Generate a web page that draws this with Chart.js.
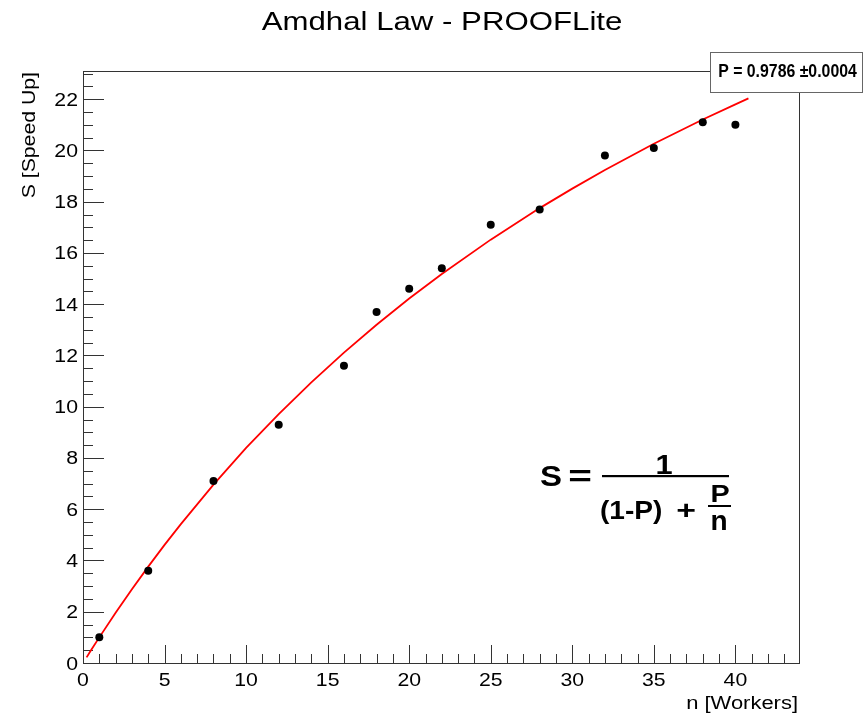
<!DOCTYPE html>
<html>
<head>
<meta charset="utf-8">
<script src="https://cdn.jsdelivr.net/npm/chart.js@4.4.1/dist/chart.umd.min.js"></script>
<style>
html,body{margin:0;padding:0;background:#fff;}
canvas{display:block;}
</style>
</head>
<body>
<canvas id="c" width="866" height="715"></canvas>
<script>
// Measured data
const workers = [1, 4, 8, 12, 16, 18, 20, 22, 25, 28, 32, 35, 38, 40];
const speedup = [1.0, 3.6, 7.1, 9.3, 11.6, 13.7, 14.6, 15.4, 17.1, 17.7, 19.8, 20.1, 21.1, 21.0];
// Fitted curve
const fitN = [0.22, 0.5, 1, 2, 3, 4, 5, 6, 8, 10, 12, 14, 16, 18, 20, 22, 25, 28, 30, 32, 35, 38, 40, 40.8];
const fitS = [0.22, 0.51, 1.00, 1.96, 2.88, 3.76, 4.61, 5.42, 6.96, 8.39, 9.71, 10.95, 12.11, 13.20, 14.22, 15.18, 16.52, 17.75, 18.51, 19.24, 20.26, 21.21, 21.80, 22.03];
// Axis ticks
const xTickLabels = [0, 5, 10, 15, 20, 25, 30, 35, 40];
const xMinorTicks = [1,2,3,4,6,7,8,9,11,12,13,14,16,17,18,19,21,22,23,24,26,27,28,29,31,32,33,34,36,37,38,39,41,42,43];
const yTickLabels = [0, 2, 4, 6, 8, 10, 12, 14, 16, 18, 20, 22];
const yMinorTicks = [0.5,1,1.5,2.5,3,3.5,4.5,5,5.5,6.5,7,7.5,8.5,9,9.5,10.5,11,11.5,12.5,13,13.5,14.5,15,15.5,16.5,17,17.5,18.5,19,19.5,20.5,21,21.5,22.5,23];
// Texts
const chartTitle = 'Amdhal Law - PROOFLite';
const xTitle = 'n [Workers]';
const yTitle = 'S [Speed Up]';
const fitLabel = 'P = 0.9786 \u00B10.0004';

const FONT = '"Liberation Sans", Arial, Helvetica, sans-serif';

function stext(ctx, str, x, y, font, align, sx, baseline) {
  ctx.save();
  ctx.translate(x, y);
  ctx.scale(sx, 1);
  ctx.font = font;
  ctx.textAlign = align;
  ctx.textBaseline = baseline || 'alphabetic';
  ctx.fillText(str, 0, 0);
  ctx.restore();
}

const rootStyle = {
  id: 'rootStyle',
  beforeDatasetsDraw(chart) {
    const ctx = chart.ctx, a = chart.chartArea;
    const xs = chart.scales.x, ys = chart.scales.y;
    ctx.save();
    ctx.strokeStyle = '#333';
    ctx.lineWidth = 1;
    ctx.beginPath();
    xTickLabels.forEach(v => { const px = Math.round(xs.getPixelForValue(v)) + 0.5; ctx.moveTo(px, a.bottom); ctx.lineTo(px, a.bottom - 18); });
    xMinorTicks.forEach(v => { const px = Math.round(xs.getPixelForValue(v)) + 0.5; ctx.moveTo(px, a.bottom); ctx.lineTo(px, a.bottom - 9); });
    yTickLabels.forEach(v => { const py = Math.round(ys.getPixelForValue(v)) + 0.5; ctx.moveTo(a.left, py); ctx.lineTo(a.left + 21, py); });
    yMinorTicks.forEach(v => { const py = Math.round(ys.getPixelForValue(v)) + 0.5; ctx.moveTo(a.left, py); ctx.lineTo(a.left + 10, py); });
    ctx.stroke();
    ctx.restore();
  },
  afterDraw(chart) {
    const ctx = chart.ctx, a = chart.chartArea;
    const xs = chart.scales.x, ys = chart.scales.y;
    ctx.save();
    ctx.strokeStyle = '#333';
    ctx.lineWidth = 1;
    ctx.strokeRect(Math.round(a.left) + 0.5, Math.round(a.top) + 0.5, Math.round(a.right - a.left), Math.round(a.bottom - a.top));
    ctx.fillStyle = '#000';
    xTickLabels.forEach(v => stext(ctx, String(v), xs.getPixelForValue(v), a.bottom + 23, '18px ' + FONT, 'center', 1.18));
    yTickLabels.forEach(v => stext(ctx, String(v), a.left - 5, ys.getPixelForValue(v) + 6.5, '18px ' + FONT, 'right', 1.18));
    stext(ctx, xTitle, a.right - 1, a.bottom + 46, '18px ' + FONT, 'right', 1.22);
    ctx.save();
    ctx.translate(35, a.top + 1);
    ctx.rotate(-Math.PI / 2);
    ctx.scale(1.18, 1);
    ctx.font = '18px ' + FONT;
    ctx.textAlign = 'right';
    ctx.textBaseline = 'alphabetic';
    ctx.fillText(yTitle, 0, 0);
    ctx.restore();
    stext(ctx, chartTitle, (a.left + a.right) / 2 + 1, 30, '26px ' + FONT, 'center', 1.2);
    // fit parameter box
    ctx.fillStyle = '#fff';
    ctx.fillRect(710.5, 52.5, 152, 40);
    ctx.strokeStyle = '#666';
    ctx.strokeRect(710.5, 52.5, 152, 40);
    ctx.fillStyle = '#000';
    stext(ctx, fitLabel, 787.5, 77, 'bold 18px ' + FONT, 'center', 0.88);
    // formula
    stext(ctx, 'S', 551, 486, 'bold 30px ' + FONT, 'center', 1.1);
    stext(ctx, '=', 580, 486, 'bold 30px ' + FONT, 'center', 1.35);
    ctx.fillRect(602, 475, 127, 2.2);
    stext(ctx, '1', 664, 474, 'bold 28px ' + FONT, 'center', 1.1);
    stext(ctx, '(1-P)', 600, 519, 'bold 26px ' + FONT, 'left', 1.08);
    stext(ctx, '+', 686, 519, 'bold 26px ' + FONT, 'center', 1.3);
    stext(ctx, 'P', 720, 502, 'bold 24px ' + FONT, 'center', 1.2);
    ctx.fillRect(708, 505, 23, 2);
    stext(ctx, 'n', 719, 530, 'bold 28px ' + FONT, 'center', 1.0);
    ctx.restore();
  }
};

new Chart(document.getElementById('c'), {
  type: 'scatter',
  data: {
    datasets: [
      {
        label: 'data',
        data: workers.map((n, i) => ({ x: n, y: speedup[i] })),
        backgroundColor: '#000',
        borderColor: '#000',
        borderWidth: 0,
        pointRadius: 4,
        pointHoverRadius: 4,
        order: 0
      },
      {
        label: 'fit',
        data: fitN.map((n, i) => ({ x: n, y: fitS[i] })),
        showLine: true,
        borderColor: '#ff0000',
        borderWidth: 1.8,
        pointRadius: 0,
        tension: 0,
        fill: false,
        order: 1
      }
    ]
  },
  options: {
    responsive: false,
    animation: false,
    events: [],
    layout: { padding: { left: 83, right: 67, top: 71, bottom: 52 } },
    plugins: { legend: { display: false }, title: { display: false }, tooltip: { enabled: false } },
    scales: {
      x: { type: 'linear', min: 0, max: 43.9, display: false },
      y: { type: 'linear', min: 0, max: 23.1, display: false }
    }
  },
  plugins: [rootStyle]
});
</script>
</body>
</html>
